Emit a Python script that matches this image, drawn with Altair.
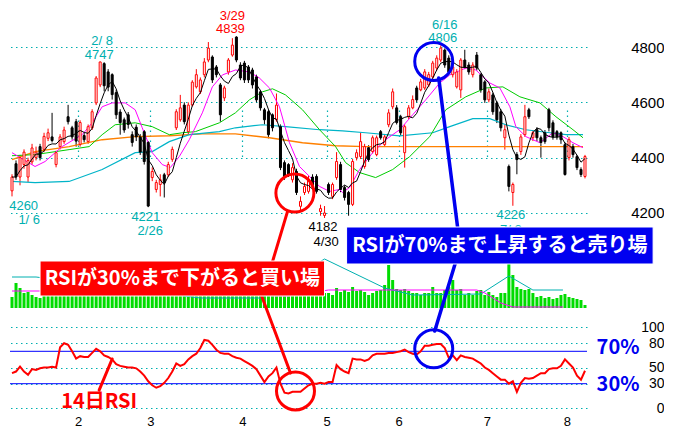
import altair as alt
import pandas as pd

# ---------------- data ----------------
OPEN = [4280,4378,4330,4375,4330,4385,4400,4440,4430,4470,
        4475,4375,4440,4458,4548,4508,4530,4448,4480,4458,
        4508,4598,4663,4740,4710,4700,4635,4565,4537,4555,
        4483,4510,4475,4494,4455,4328,4285,4303,4338,4338,
        4394,4508,4537,4590,4494,4590,4656,4638,4700,4753,
        4764,4728,4663,4616,4710,4771,4836,4735,4742,4728,
        4717,4692,4638,4573,4566,4555,4537,4512,4382,4375,
        4320,4350,4224,4274,4278,4330,4332,4205,4191,4303,
        4260,4328,4375,4292,4274,4231,4400,4404,4368,4436,
        4422,4411,4494,4447,4519,4584,4580,4548,4418,4548,
        4580,4652,4645,4652,4663,4692,4724,4753,4789,4760,
        4700,4656,4645,4753,4735,4700,4771,4700,4674,4609,
        4627,4598,4566,4472,4368,4274,4411,4422,4483,4573,
        4472,4501,4472,4490,4573,4526,4494,4490,4447,4400,
        4440,4404,4357,4332]
CLOSE = [4330,4330,4400,4420,4390,4435,4420,4400,4477,4490,
         4462,4418,4475,4500,4530,4475,4460,4527,4465,4512,
         4566,4688,4746,4660,4655,4628,4555,4527,4500,4520,
         4455,4475,4420,4386,4225,4350,4310,4320,4310,4375,
         4430,4566,4580,4530,4590,4673,4700,4681,4746,4796,
         4681,4700,4555,4652,4753,4807,4753,4688,4681,4681,
         4663,4609,4580,4537,4483,4508,4590,4364,4328,4338,
         4364,4274,4242,4296,4320,4300,4278,4216,4200,4274,
         4303,4386,4285,4256,4231,4386,4418,4458,4440,4393,
         4472,4472,4472,4475,4562,4638,4527,4490,4512,4580,
         4610,4609,4674,4710,4700,4742,4760,4796,4735,4710,
         4728,4710,4753,4728,4710,4735,4724,4645,4609,4638,
         4566,4537,4508,4501,4296,4303,4393,4475,4548,4548,
         4490,4472,4455,4458,4508,4475,4475,4465,4339,4465,
         4411,4364,4339,4404]
HIGH = [4340,4390,4410,4430,4400,4450,4440,4450,4490,4505,
        4562,4425,4485,4512,4591,4515,4540,4535,4490,4520,
        4575,4695,4747,4745,4720,4705,4645,4575,4545,4565,
        4495,4520,4485,4500,4460,4365,4320,4340,4345,4385,
        4440,4575,4627,4600,4600,4680,4720,4690,4760,4818,
        4770,4735,4670,4660,4760,4832,4839,4745,4750,4735,
        4725,4700,4645,4580,4575,4560,4632,4520,4390,4380,
        4380,4360,4260,4310,4335,4340,4340,4230,4225,4310,
        4310,4420,4385,4300,4280,4395,4430,4490,4450,4445,
        4480,4480,4500,4485,4575,4650,4590,4555,4520,4590,
        4625,4660,4685,4720,4710,4750,4770,4806,4795,4770,
        4740,4720,4760,4790,4745,4745,4782,4705,4680,4650,
        4635,4605,4575,4520,4375,4310,4420,4485,4591,4580,
        4500,4510,4480,4500,4580,4535,4500,4495,4455,4475,
        4450,4410,4365,4410]
LOW = [4260,4320,4300,4360,4312,4375,4390,4390,4420,4460,
       4455,4365,4430,4450,4520,4465,4440,4440,4455,4450,
       4500,4590,4655,4640,4640,4610,4540,4483,4490,4505,
       4440,4460,4410,4375,4221,4315,4274,4260,4256,4330,
       4385,4500,4530,4520,4485,4585,4650,4630,4690,4745,
       4670,4690,4530,4605,4700,4765,4745,4680,4670,4670,
       4650,4600,4570,4520,4470,4495,4530,4355,4320,4330,
       4310,4265,4210,4265,4270,4290,4270,4190,4182,4265,
       4250,4320,4275,4245,4190,4225,4390,4395,4360,4385,
       4415,4405,4465,4440,4510,4575,4520,4480,4364,4540,
       4575,4600,4640,4645,4655,4685,4715,4745,4725,4700,
       4690,4650,4616,4720,4700,4690,4715,4635,4598,4600,
       4555,4525,4495,4429,4278,4226,4340,4410,4475,4540,
       4460,4460,4400,4450,4495,4465,4465,4450,4335,4390,
       4400,4355,4330,4325]
VOLUME = [11,25,20,15,16,13,11,10,
          18,20,24,17,19,21,26,19,18,
          20,16,19,22,30,33,26,21,20,24,18,17,19,16,18,20,24,34,
          26,20,18,19,21,23,28,24,20,26,27,22,21,24,28,25,20,27,19,23,26,30,22,
          20,19,21,24,22,20,25,21,23,32,27,21,20,25,26,19,18,17,21,28,
          15,15,13,20,16,18,16,21,17,18,16,13,15,17,18,23,43,
          28,19,18,19,17,15,15,13,15,15,21,15,15,18,21,28,18,19,13,15,13,17,18,13,16,13,11,15,15,
          45,
          33,21,19,18,19,15,11,12,10,11,9,10,13,14,11,10,9,8,3]
RSI = [43,45,51,45,41,48,47,49,50,50,
       51,50,75,80,78,70,61,64,63,63,
       68,73,70,65,63,60,54,52,51,50,
       50,49,45,40,33,28,25,27,31,37,
       45,55,52,54,60,64,67,74,84,83,
       78,72,68,67,67,64,62,61,58,55,
       52,48,40,32,39,43,50,30,19,18,
       20,20,20,24,28,30,30,31,30,32,
       32,53,48,45,43,61,60,60,58,60,
       65,67,67,67,68,68,69,70,72,69,
       67,66,70,77,77,78,79,79,74,62,
       65,59,65,63,62,61,58,55,50,47,
       43,39,35,35,30,33,20,31,37,36,
       37,40,43,43,48,49,49,52,60,55,
       50,40,35,46]

# moving-average lines (trading-day index, price)
MA_MAG_I = [0,5.75,8.25,12.5,17.5,20,22.5,25,28.25,30.75,32.5,35,37.5,39.5,41.75,44.25,47.5,50,52.5,55.75,
            59.25,61.75,64.25,66.75,69.25,71.75,74.25,76.75,79.25,81.75,82.5,84.25,86.75,90,93.25,96.75,100,
            103.25,106.75,109.25,113.25,115.75,119.25,121.75,124.25,125.75,128.25,131.75,135,137.5,140,142.5]
MA_MAG_V = [4418,4368,4386,4440,4483,4526,4584,4598,4598,4573,4508,4418,4375,4364,4404,4465,4562,4656,4699,4717,
            4710,4688,4652,4584,4454,4368,4332,4296,4278,4285,4274,4292,4357,4418,4465,4501,4555,
            4609,4670,4699,4724,4717,4670,4652,4584,4512,4476,4454,4490,4476,4454,4436]
MA_GRN_I = [0,5.75,14.25,19.25,22.5,25.75,30.75,35,39.25,42.5,45.75,51.75,55.75,59.25,62.5,65,68.25,72.5,76.75,
            80.75,83.25,86.75,90.75,95,99.25,104.25,108.25,113.25,118.25,122.5,126.75,131.75,135.75,140,142.5]
MA_GRN_V = [4407,4411,4429,4440,4483,4519,4526,4512,4483,4490,4494,4526,4562,4609,4638,4649,4627,4573,4501,
            4440,4382,4346,4328,4357,4404,4476,4573,4620,4652,4656,4620,4598,4548,4501,4472]
MA_CYN_I = [0,5.75,14.25,22.5,30.75,35,39.25,44.25,51.75,55.75,62.5,68.25,76.75,82.5,88.25,96.75,105,109.25,
            115,119.25,123.25,128.25,134.25,138.25,142.5]
MA_CYN_V = [4314,4310,4314,4357,4418,4422,4458,4483,4494,4508,4519,4512,4501,4497,4490,4479,4490,4512,
            4541,4541,4519,4501,4490,4483,4483]
MA_ORG_I = [0,5.75,14.25,22.5,30.75,39.25,47.5,55.75,64.25,72.5,80.75,88.25,105,121.75,142.5]
MA_ORG_V = [4393,4422,4440,4465,4476,4479,4486,4486,4472,4454,4443,4440,4440,4440,4440]

# volume moving averages (index, volume units)
VMA_CYN_I = [0,6,47,62,78,93,100,117,124,130,137.5]
VMA_CYN_V = [31,31,10,10,49,20,13,14,32,18,18]
VMA_MAG_I = [0,7,69,79,92,116,118,122,125,137.5]
VMA_MAG_V = [17,17,12,18,18,18,15,5,1,1]

PRICE_TICKS = [4200, 4400, 4600, 4800]
RSI_TICKS = [0, 30, 50, 80, 100]
MONTH_POS = [16.5, 34.5, 57.5, 78.5, 96.5, 118.5, 138.5]
MONTH_LABELS = ["2", "3", "4", "5", "6", "7", "8"]

# high / low call-outs: x position, anchor price, text, colour
TOP_PRICE = [(21.75, 4747, "4747", "t"), (54.5, 4839, "4839", "r"), (107.5, 4806, "4806", "t")]
TOP_DATE = [(22.5, 4747, "2/ 8", "t"), (55.0, 4839, "3/29", "r"), (108.0, 4806, "6/16", "t")]
BOT_PRICE = [(2.9, 4260, "4260", "t"), (33.4, 4221, "4221", "t"), (77.6, 4182, "4182", "k"), (124.5, 4226, "4226", "t")]
BOT_DATE = [(4.3, 4260, "1/ 6", "t"), (34.5, 4221, "2/26", "t"), (78.4, 4182, "4/30", "k"), (124.5, 4226, "7/ 8", "t")]

# ---------------- styling ----------------
RED = "#ff0000"
BLUE = "#0000f0"
TEAL = "#00b0b0"
GREEN = "#00dc00"
NARROW = "Liberation Sans Narrow, Arial Narrow, Liberation Sans"
CJK = "Noto Sans CJK JP"
CMAP = {"t": TEAL, "r": RED, "k": "#000000"}
GRID_DASH = [1.5, 3.5]

N = len(CLOSE)
df = pd.DataFrame({"i": list(range(N)), "o": OPEN, "h": HIGH, "l": LOW, "c": CLOSE,
                   "v": VOLUME, "rsi": RSI})
df["col"] = [RED if c >= o else "#000000" for o, c in zip(OPEN, CLOSE)]
df["fillc"] = ["#ffffff" if c >= o else "#000000" for o, c in zip(OPEN, CLOSE)]

XS = alt.Scale(domain=[-0.5, N - 0.5], nice=False, zero=False, padding=0)
PS = alt.Scale(domain=[4150, 4850], range=[218.8, 25.2], nice=False, zero=False)
VS = alt.Scale(domain=[0, 50], range=[300, 250], nice=False, zero=False)
RS = alt.Scale(domain=[0, 100], range=[400, 319], nice=False, zero=False)

label_expr = ("[" + ",".join("'%s'" % m for m in MONTH_LABELS) + "][indexof(["
              + ",".join(str(p) for p in MONTH_POS) + "], datum.value)]")
XAXIS = alt.Axis(orient="bottom", values=MONTH_POS, labelExpr=label_expr, grid=True, gridColor=TEAL,
                 gridDash=GRID_DASH, gridWidth=1.2, domain=False, ticks=False,
                 labelPadding=5, labelFontSize=13, labelFont=NARROW, labelColor="#000000",
                 labelFlush=False, labelOverlap=False, title=None)
PAXIS = alt.Axis(orient="right", values=PRICE_TICKS, format="d", grid=True, gridColor=TEAL,
                 gridDash=GRID_DASH, gridWidth=1.2, domain=False, ticks=False, labelPadding=77,
                 labelAlign="right", labelBaseline="middle", labelFontSize=15, labelFont=NARROW,
                 labelColor="#000000", labelFlush=False, labelOverlap=False, title=None)
RAXIS = alt.Axis(orient="right", values=RSI_TICKS, format="d", grid=True, gridColor=TEAL,
                 gridDash=GRID_DASH, gridWidth=1.2, domain=False, ticks=False, labelPadding=77,
                 labelAlign="right", labelBaseline="middle", labelFontSize=14, labelFont=NARROW,
                 labelColor="#000000", labelFlush=False, labelOverlap=False, title=None)


def X(field="i"):
    # every layer shares the x scale and the same axis definition
    return alt.X(f"{field}:Q", scale=XS, axis=XAXIS)


def YP(field):
    return alt.Y(f"{field}:Q", scale=PS, axis=PAXIS)


def YR(field):
    return alt.Y(f"{field}:Q", scale=RS, axis=RAXIS)


def YV(field):
    return alt.Y(f"{field}:Q", scale=VS, axis=None)


def line_df(xs, ys):
    return pd.DataFrame({"i": xs, "v": ys})


# ---------------- volume panel ----------------
vol_bars = alt.Chart(df).mark_rule(strokeWidth=3, color=GREEN).encode(
    x=X(), y=YV("v"), y2=alt.datum(0))
vma_c = alt.Chart(line_df(VMA_CYN_I, VMA_CYN_V)).mark_line(color=TEAL, strokeWidth=1).encode(
    x=X(), y=YV("v"))
vma_m = alt.Chart(line_df(VMA_MAG_I, VMA_MAG_V)).mark_line(color="#ff00ff", strokeWidth=1).encode(
    x=X(), y=YV("v"))
vol_layer = alt.layer(vol_bars, vma_c, vma_m)

# ---------------- price panel ----------------
wicks = alt.Chart(df).mark_rule(strokeWidth=1).encode(
    x=X(), y=YP("l"), y2="h:Q", color=alt.Color("col:N", scale=None))
bodies = alt.Chart(df).mark_bar(size=2, strokeWidth=1).encode(
    x=X(), y=YP("o"), y2="c:Q",
    fill=alt.Fill("fillc:N", scale=None), stroke=alt.Stroke("col:N", scale=None))
ma5 = alt.Chart(df).transform_window(
    ma5="mean(c)", frame=[-4, 0], sort=[alt.SortField("i")]
).mark_line(color="#000000", strokeWidth=1).encode(x=X(), y=YP("ma5"))


def ma_line(xs, ys, color, w=1.0):
    return alt.Chart(line_df(xs, ys)).mark_line(color=color, strokeWidth=w).encode(x=X(), y=YP("v"))


ma_org = ma_line(MA_ORG_I, MA_ORG_V, "#ff8000", 1.4)
ma_cyn = ma_line(MA_CYN_I, MA_CYN_V, "#00b4c8", 1.2)
ma_grn = ma_line(MA_GRN_I, MA_GRN_V, "#00cc00", 1.0)
ma_mag = ma_line(MA_MAG_I, MA_MAG_V, "#ff00ff", 1.0)


def txt_df(rows):
    return pd.DataFrame({"i": [r[0] for r in rows], "p": [r[1] for r in rows],
                         "t": [r[2] for r in rows], "col": [CMAP[r[3]] for r in rows]})


def callout(rows, dy):
    return alt.Chart(txt_df(rows)).mark_text(
        font=NARROW, fontSize=13, baseline="alphabetic", align="center", dy=dy
    ).encode(x=X(), y=YP("p"), text="t:N", color=alt.Color("col:N", scale=None))


lab_tp = callout(TOP_PRICE, -3)
lab_td = callout(TOP_DATE, -16.5)
lab_bp = callout(BOT_PRICE, 13.5)
lab_bd = callout(BOT_DATE, 28)

# annotation circles / pointer lines anchored on the price scale
circ_p = alt.Chart(pd.DataFrame({"i": [70.6, 105.25], "p": [4272, 4748], "col": [RED, BLUE]})).mark_point(
    shape="circle", filled=False, size=1444, strokeWidth=3, opacity=1).encode(
    x=X(), y=YP("p"), color=alt.Color("col:N", scale=None))
seg_p = alt.Chart(pd.DataFrame({"i": [68.75, 106.5], "i2": [64, 111.75], "p": [4205, 4688],
                                "p2": [3975, 4086], "col": [RED, BLUE], "w": [3, 3.5]})).mark_rule(
    strokeCap="round").encode(
    x=X(), x2="i2:Q", y=YP("p"), y2="p2:Q",
    color=alt.Color("col:N", scale=None), strokeWidth=alt.StrokeWidth("w:Q", scale=None))

price_layer = alt.layer(wicks, ma_org, ma_cyn, ma_grn, ma_mag, bodies, ma5,
                        lab_tp, lab_td, lab_bp, lab_bd, seg_p, circ_p)

# ---------------- RSI panel ----------------
rsi_line = alt.Chart(df).mark_line(color=RED, strokeWidth=2).encode(x=X(), y=YR("rsi"))
rsi_rules = alt.Chart(pd.DataFrame({"r": [70, 30]})).mark_rule(color="#0000ff", strokeWidth=1).encode(
    y=YR("r"))
circ_r = alt.Chart(pd.DataFrame({"i": [70.75, 105.25], "r": [21, 73], "col": [RED, BLUE]})).mark_point(
    shape="circle", filled=False, size=1444, strokeWidth=3, opacity=1).encode(
    x=X(), y=YR("r"), color=alt.Color("col:N", scale=None))
seg_r = alt.Chart(pd.DataFrame({"i": [61, 111.25, 21.75], "i2": [69.5, 105.5, 25],
                                "r": [155.6, 189, 22], "r2": [43.2, 95, 60.5],
                                "col": [RED, BLUE, RED], "w": [3, 3.5, 3]})).mark_rule(
    strokeCap="round").encode(
    x=X(), x2="i2:Q", y=YR("r"), y2="r2:Q",
    color=alt.Color("col:N", scale=None), strokeWidth=alt.StrokeWidth("w:Q", scale=None))
rsi_txt = alt.Chart(pd.DataFrame({"i": [21.75, 151.25, 151.25], "r": [7.4, 74.5, 29],
                                  "t": ["14日RSI", "70%", "30%"], "col": [RED, BLUE, BLUE]})).mark_text(
    font=CJK, fontSize=20, fontWeight="bold", baseline="middle", align="center").encode(
    x=X(), y=YR("r"), text="t:N", color=alt.Color("col:N", scale=None))
rsi_layer = alt.layer(rsi_rules, rsi_line, seg_r, circ_r, rsi_txt)

# ---------------- call-out boxes ----------------
box_df = pd.DataFrame({"i": [7, 83.5], "i2": [78, 160], "v": [12, 44], "v2": [47, 81],
                       "col": [RED, BLUE], "xc": [42.5, 121.75], "vc": [29.5, 62.5],
                       "t": ["RSIが30%まで下がると買い場", "RSIが70%まで上昇すると売り場"]})
boxes = alt.Chart(box_df).mark_rect(stroke="#ffffff", strokeWidth=1).encode(
    x=X(), x2="i2:Q", y=YV("v"), y2="v2:Q", fill=alt.Fill("col:N", scale=None))
box_txt = alt.Chart(box_df).mark_text(
    font=CJK, fontSize=20, fontWeight="bold", color="#ffffff", baseline="middle", align="center"
).encode(x=X("xc"), y=YV("vc"), text="t:N")
box_layer = alt.layer(boxes, box_txt)

chart = alt.layer(vol_layer, price_layer, rsi_layer, box_layer).resolve_scale(
    y="independent"
).properties(width=577, height=402, padding=0, background="#ffffff").configure_view(stroke=None)

chart.save("out.html", embed_options={"renderer": "svg", "actions": False})
